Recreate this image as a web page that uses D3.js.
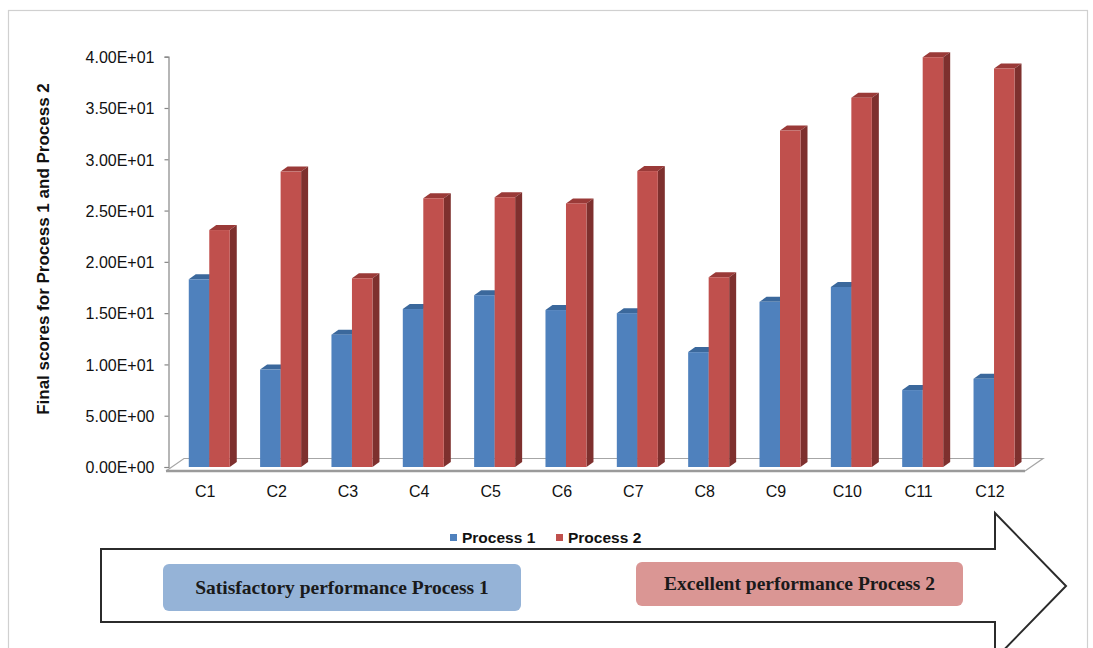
<!DOCTYPE html>
<html>
<head>
<meta charset="utf-8">
<script src="https://cdn.jsdelivr.net/npm/d3@7"></script>
<style>
  html, body { margin: 0; padding: 0; background: #ffffff; }
  svg { display: block; }
</style>
</head>
<body>
<svg id="chart" width="1093" height="648"></svg>
<script>
// Final scores per criterion for the two processes
const categories = ["C1", "C2", "C3", "C4", "C5", "C6", "C7", "C8", "C9", "C10", "C11", "C12"];
const process1 = [18.3, 9.5, 12.9, 15.4, 16.75, 15.3, 15.0, 11.2, 16.1, 17.55, 7.5, 8.6];
const process2 = [23.1, 28.8, 18.4, 26.2, 26.3, 25.7, 28.85, 18.5, 32.8, 36.0, 39.95, 38.85];
const seriesNames = ["Process 1", "Process 2"];
const yTicks = [0, 5, 10, 15, 20, 25, 30, 35, 40];
const yTitle = "Final scores for Process 1 and Process 2";
const bandLabels = ["Satisfactory performance Process 1", "Excellent performance Process 2"];

const svg = d3.select("#chart");

// Face colours: front, side, top
const palette = {
  "Process 1": { front: "#4f81bd", side: "#385d8a", top: "#3b689c" },
  "Process 2": { front: "#c0504d", side: "#7e302e", top: "#9a3a38" }
};

// Outer frame
svg.append("rect")
  .attr("x", 8.5).attr("y", 10.5).attr("width", 1079).attr("height", 660)
  .attr("fill", "none").attr("stroke", "#d0d0d0").attr("stroke-width", 1.2);

// Scales
const y = d3.scaleLinear().domain([0, 40]).range([467, 56.7]);
const x = d3.scaleBand().domain(categories).range([173.6, 1029.7]).paddingInner(0).paddingOuter(0);
const xs = d3.scaleBand().domain(seriesNames).range([-20.5, 20.5]);
const depth = { dx: 7, dy: -5 };

// Floor
const floorLeft = x.range()[0] - 7.6;
const floorRight = x.range()[1] - 4.7;
const floorFront = y(0) + 4;
const floorDx = 18, floorDy = -12.5;
svg.append("path")
  .attr("d", `M${floorLeft},${floorFront} L${floorLeft + floorDx},${floorFront + floorDy} L${floorRight + floorDx},${floorFront + floorDy} L${floorRight},${floorFront}`)
  .attr("fill", "none").attr("stroke", "#a6a6a6").attr("stroke-width", 1.2);
svg.append("line")
  .attr("x1", floorLeft).attr("x2", floorRight)
  .attr("y1", floorFront).attr("y2", floorFront)
  .attr("stroke", "#9a9a9a").attr("stroke-width", 2.4);

// Y axis
const yAxis = d3.axisLeft(y)
  .tickValues(yTicks)
  .tickSize(4)
  .tickPadding(10)
  .tickFormat(v => {
    const [m, e] = v.toExponential(2).split("e");
    return m + "E" + e[0] + e.slice(1).padStart(2, "0");
  });
const gy = svg.append("g").attr("transform", "translate(168.5,0)").call(yAxis);
gy.attr("font-size", null).attr("font-family", null);
gy.select(".domain").attr("stroke", "#868686").attr("stroke-width", 1.2);
gy.selectAll(".tick line").attr("stroke", "#868686").attr("stroke-width", 1.2);
gy.selectAll(".tick text")
  .attr("dy", "0.36em")
  .style("font-family", "'Liberation Sans', Arial, sans-serif")
  .style("font-size", "16px").attr("fill", "#111");

// Y axis title
svg.append("text")
  .attr("transform", "translate(49,249) rotate(-90)")
  .attr("text-anchor", "middle")
  .style("font-family", "'Liberation Sans', Arial, sans-serif")
  .style("font-weight", "bold").style("font-size", "17px").attr("fill", "#111")
  .text(yTitle);

// Category labels
svg.append("g").selectAll("text").data(categories).join("text")
  .attr("x", d => x(d) + x.bandwidth() / 2 - 4)
  .attr("y", 497)
  .attr("text-anchor", "middle")
  .style("font-family", "'Liberation Sans', Arial, sans-serif")
  .style("font-size", "16px").attr("fill", "#111")
  .text(d => d);

// 3D bars
const rows = categories.map((c, i) => ({ cat: c, values: [
  { series: "Process 1", value: process1[i] },
  { series: "Process 2", value: process2[i] }
]}));

const groups = svg.append("g").selectAll("g").data(rows).join("g")
  .attr("transform", d => `translate(${x(d.cat) + x.bandwidth() / 2},0)`);

groups.each(function (row) {
  const g = d3.select(this);
  row.values.forEach(v => {
    const x0 = xs(v.series), x1 = x0 + xs.bandwidth();
    const yt = y(v.value), yb = y(0);
    const c = palette[v.series];
    // top face
    g.append("path")
      .attr("d", `M${x0},${yt} L${x0 + depth.dx},${yt + depth.dy} L${x1 + depth.dx},${yt + depth.dy} L${x1},${yt} Z`)
      .attr("fill", c.top);
    // side face
    g.append("path")
      .attr("d", `M${x1},${yt} L${x1 + depth.dx},${yt + depth.dy} L${x1 + depth.dx},${yb + depth.dy} L${x1},${yb} Z`)
      .attr("fill", c.side);
    // front face
    g.append("rect")
      .attr("x", x0).attr("y", yt)
      .attr("width", x1 - x0).attr("height", yb - yt)
      .attr("fill", c.front);
  });
});

// Legend
const legend = svg.append("g");
const legendX = [450, 556];
seriesNames.forEach((s, i) => {
  legend.append("rect")
    .attr("x", legendX[i]).attr("y", 534).attr("width", 7).attr("height", 7)
    .attr("fill", palette[s].front);
  legend.append("text")
    .attr("x", legendX[i] + 12).attr("y", 543)
    .style("font-family", "'Liberation Sans', Arial, sans-serif")
    .style("font-size", "15.5px").style("font-weight", "bold").attr("fill", "#111")
    .text(s);
});

// Progress arrow
const arrow = d3.path();
arrow.moveTo(101, 549);
arrow.lineTo(995, 549);
arrow.lineTo(995, 513);
arrow.lineTo(1066, 586);
arrow.lineTo(995, 659);
arrow.lineTo(995, 622);
arrow.lineTo(101, 622);
arrow.closePath();
svg.append("path")
  .attr("d", arrow.toString())
  .attr("fill", "#ffffff").attr("stroke", "#2b2b2b").attr("stroke-width", 2)
  .attr("stroke-linejoin", "miter");

// Performance labels inside the arrow
const boxes = [
  { x: 163, y: 564, w: 358, h: 47, fill: "#95b3d7", label: bandLabels[0] },
  { x: 636, y: 562, w: 327, h: 44, fill: "#da9694", label: bandLabels[1] }
];
boxes.forEach(b => {
  svg.append("rect")
    .attr("x", b.x).attr("y", b.y).attr("width", b.w).attr("height", b.h)
    .attr("rx", 6).attr("ry", 6).attr("fill", b.fill);
  svg.append("text")
    .attr("x", b.x + b.w / 2).attr("y", b.y + b.h / 2 + 6)
    .attr("text-anchor", "middle")
    .style("font-family", "'Liberation Serif', 'Times New Roman', serif")
    .style("font-weight", "bold").style("font-size", "19.5px").attr("fill", "#1a1a1a")
    .text(b.label);
});
</script>
</body>
</html>
